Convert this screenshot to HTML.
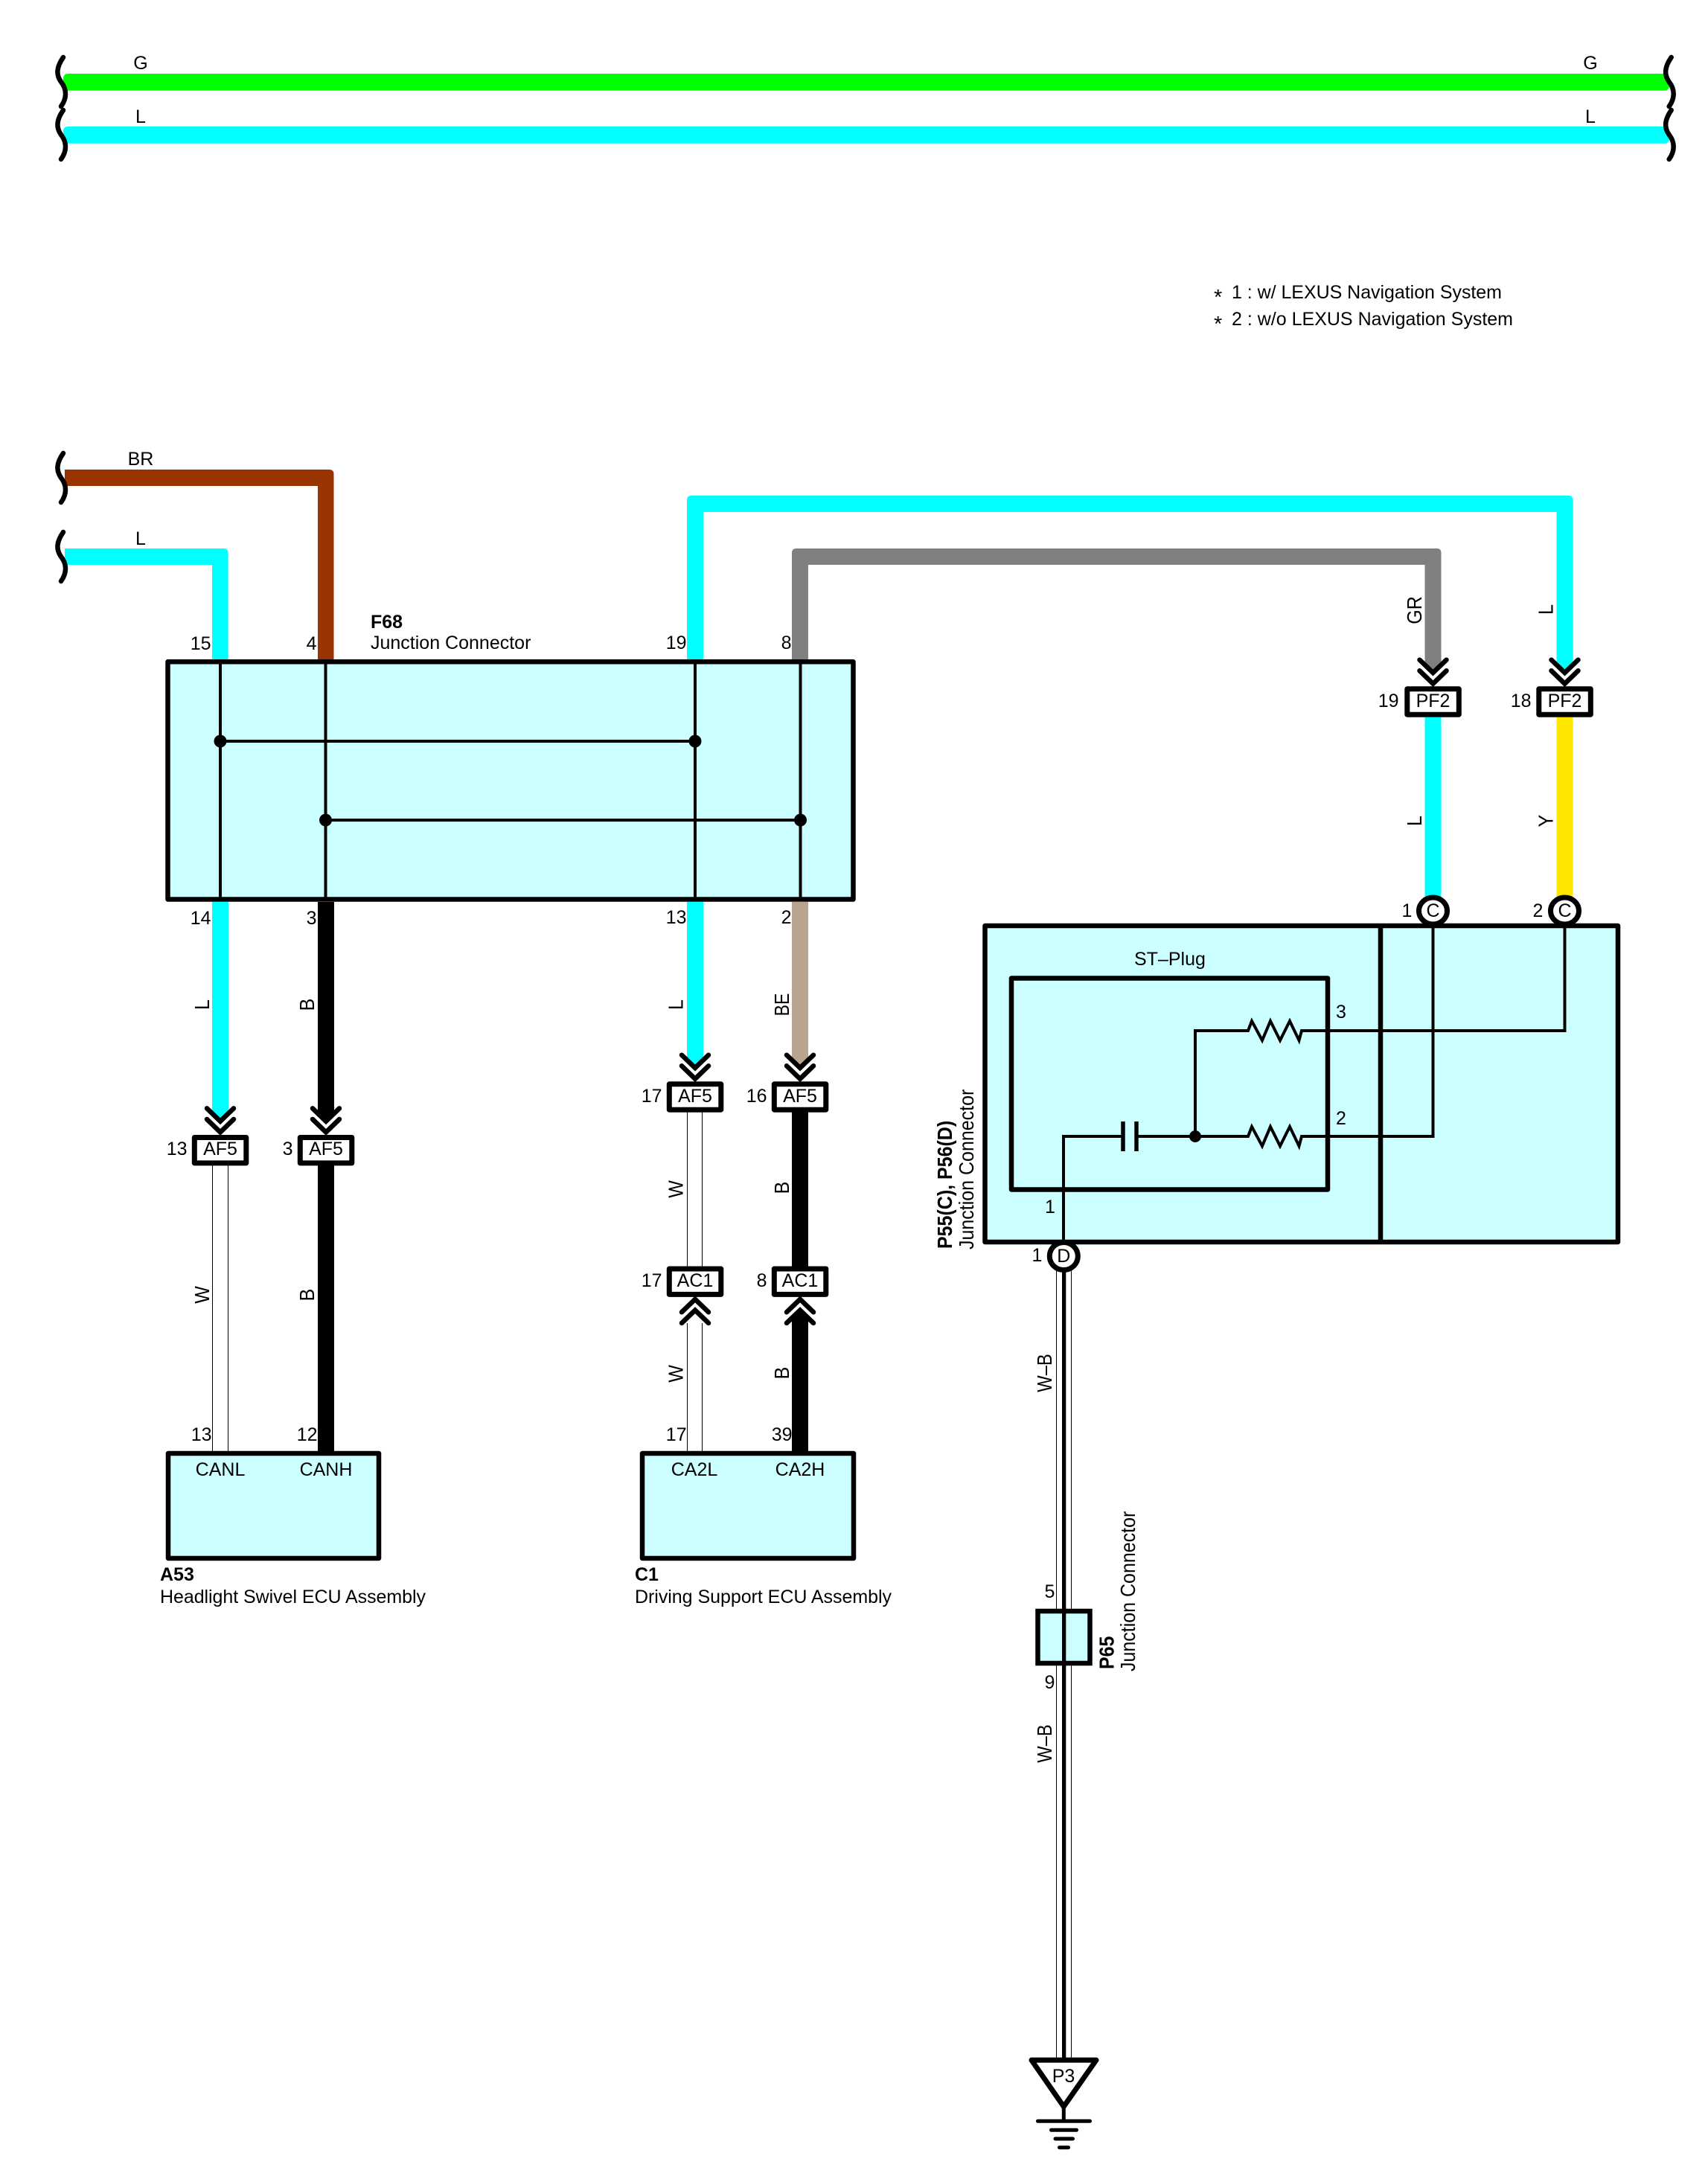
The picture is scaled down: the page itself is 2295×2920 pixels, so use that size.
<!DOCTYPE html>
<html><head><meta charset="utf-8"><style>
html,body{margin:0;padding:0;background:#fff}
svg{display:block}
text{font-family:"Liberation Sans",sans-serif;font-size:25px;fill:#000}
text:not([transform]){transform:translateY(-1px)}
.b{font-weight:bold}
.e{text-anchor:end}
text.e:not([transform]){transform:translate(1.5px,-1px)}
.m{text-anchor:middle}
.box{fill:#ccffff;stroke:#000;stroke-width:6.5;stroke-linejoin:round}
.cb{fill:#fff;stroke:#000;stroke-width:7;stroke-linejoin:round}
.w4{fill:none;stroke:#000;stroke-width:4}
.chev{fill:none;stroke:#000;stroke-width:6.5;stroke-linecap:round}
.sq{fill:none;stroke:#000;stroke-width:6.5;stroke-linecap:round}
.thin{stroke:#000;stroke-width:1;fill:none}
</style></head><body>
<svg width="2295" height="2920" viewBox="0 0 2295 2920" xmlns="http://www.w3.org/2000/svg">
<!-- top wires -->
<rect x="85" y="99" width="2158" height="22.7" rx="6" fill="#00ff00"/>
<rect x="85" y="170" width="2158" height="22.7" rx="6" fill="#00ffff"/>
<path class="sq" d="M85 77C76 90 75 100 82 110C90 120 90 132 82 143"/>
<path class="sq" d="M85 148C76 161 75 171 82 181C90 191 90 203 82 214"/>
<path class="sq" d="M2245.7 77C2236.7 90 2235.7 100 2242.7 110C2250.7 120 2250.7 132 2242.7 143"/>
<path class="sq" d="M2245.7 148C2236.7 161 2235.7 171 2242.7 181C2250.7 191 2250.7 203 2242.7 214"/>
<text class="m" x="189" y="94">G</text><text class="m" x="189" y="166">L</text>
<text class="m" x="2137" y="94">G</text><text class="m" x="2137" y="166">L</text>
<!-- legend -->
<text x="1631" y="410" style="font-size:29px">*</text>
<text x="1631" y="446" style="font-size:29px">*</text>
<text x="1655" y="402" textLength="363">1 : w/ LEXUS Navigation System</text>
<text x="1655" y="438" textLength="378">2 : w/o LEXUS Navigation System</text>
<!-- wires above F68 -->
<path fill="#993300" d="M87 631H442.5Q448.5 631 448.5 637V886H427V653H87Z"/>
<path fill="#00ffff" d="M87 737H300.6Q306.6 737 306.6 743V886H285V759H87Z"/>
<path fill="#00ffff" d="M923 886V672Q923 666 929 666H2107.5Q2113.5 666 2113.5 672V889L2102.5 900L2091.5 889V688H945V886Z"/>
<path fill="#808080" d="M1064 886V743Q1064 737 1070 737H1930.5Q1936.5 737 1936.5 743V889L1925.5 900L1914.5 889V759H1086V886Z"/>
<path class="sq" d="M85 609C76 622 75 632 82 642C90 652 90 664 82 675"/>
<path class="sq" d="M85 715C76 728 75 738 82 748C90 758 90 770 82 781"/>
<text class="m" x="189" y="626">BR</text><text class="m" x="189" y="733">L</text>
<!-- F68 -->
<rect class="box" x="225.5" y="889.3" width="921" height="319.2"/>
<path class="w4" d="M296 889V1209M437.5 889V1209M934 889V1209M1075.5 889V1209M296 996H934M437.5 1102H1075.5"/>
<circle cx="296" cy="996" r="8.5"/><circle cx="934" cy="996" r="8.5"/>
<circle cx="437.5" cy="1102" r="8.5"/><circle cx="1075.5" cy="1102" r="8.5"/>
<text class="b" x="498" y="845">F68</text><text x="498" y="873">Junction Connector</text>
<text class="e" x="282" y="874">15</text><text class="e" x="424" y="874">4</text>
<text class="e" x="921" y="873">19</text><text class="e" x="1062" y="873">8</text>
<text class="e" x="282" y="1243">14</text><text class="e" x="424" y="1243">3</text>
<text class="e" x="921" y="1242">13</text><text class="e" x="1062" y="1242">2</text>
<!-- wires below F68 -->
<path fill="#00ffff" d="M285 1212H307V1492L296 1503L285 1492Z"/>
<path fill="#000" d="M427 1212H449V1492L438 1503L427 1492Z"/>
<path fill="#00ffff" d="M923 1212H945V1420L934 1431L923 1420Z"/>
<path fill="#b8a48f" d="M1064 1212H1086V1420L1075 1431L1064 1420Z"/>
<path class="chev" d="M278 1489.4L296 1506.7L314 1489.4M278 1504L296 1521.4L314 1504"/>
<path class="chev" d="M420 1489.4L438 1506.7L456 1489.4M420 1504L438 1521.4L456 1504"/>
<path class="chev" d="M916 1417.7L934 1435L952 1417.7M916 1432.3L934 1449.7L952 1432.3"/>
<path class="chev" d="M1057 1417.7L1075 1435L1093 1417.7M1057 1432.3L1075 1449.7L1093 1432.3"/>
<path class="chev" d="M1907.5 886.7L1925.5 904L1943.5 886.7M1907.5 901.3L1925.5 918.7L1943.5 901.3"/>
<path class="chev" d="M2084.5 886.7L2102.5 904L2120.5 886.7M2084.5 901.3L2102.5 918.7L2120.5 901.3"/>
<!-- lower wires left -->
<path class="thin" d="M285.5 1566V1951M306.5 1566V1951"/>
<rect x="427" y="1566" width="22" height="387"/>
<path class="thin" d="M923.5 1494V1702M943.5 1494V1702M923.5 1778V1951M943.5 1778V1951"/>
<rect x="1064" y="1494" width="22" height="208"/>
<path fill="#000" d="M1064 1953V1775L1075 1764L1086 1775V1953Z"/>
<path class="chev" d="M916 1763.2L934 1745.9L952 1763.2M916 1777.9L934 1760.6L952 1777.9"/>
<path class="chev" d="M1057 1763.2L1075 1745.9L1093 1763.2M1057 1777.9L1075 1760.6L1093 1777.9"/>
<!-- connector boxes -->
<rect class="cb" x="261.3" y="1528.5" width="69.5" height="34.4"/><text class="m" x="296" y="1553">AF5</text>
<rect class="cb" x="403.3" y="1528.5" width="69.5" height="34.4"/><text class="m" x="438" y="1553">AF5</text>
<rect class="cb" x="899.3" y="1456.8" width="69.5" height="34.4"/><text class="m" x="934" y="1482">AF5</text>
<rect class="cb" x="1040.3" y="1456.8" width="69.5" height="34.4"/><text class="m" x="1075" y="1482">AF5</text>
<rect class="cb" x="899.3" y="1705" width="69.5" height="34.4"/><text class="m" x="934" y="1730">AC1</text>
<rect class="cb" x="1040.3" y="1705" width="69.5" height="34.4"/><text class="m" x="1075" y="1730">AC1</text>
<rect class="cb" x="1890.8" y="925.8" width="69.5" height="34.4"/><text class="m" x="1925.5" y="951">PF2</text>
<rect class="cb" x="2067.8" y="925.8" width="69.5" height="34.4"/><text class="m" x="2102.5" y="951">PF2</text>
<text class="e" x="250" y="1553">13</text><text class="e" x="392" y="1553">3</text>
<text class="e" x="888" y="1482">17</text><text class="e" x="1029" y="1482">16</text>
<text class="e" x="888" y="1730">17</text><text class="e" x="1029" y="1730">8</text>
<text class="e" x="1878" y="951">19</text><text class="e" x="2056" y="951">18</text>
<!-- ECUs -->
<rect class="box" x="226" y="1953" width="283" height="141"/>
<rect class="box" x="863" y="1953" width="284" height="141"/>
<text class="m" x="296" y="1984">CANL</text><text class="m" x="438" y="1984">CANH</text>
<text class="m" x="933" y="1984">CA2L</text><text class="m" x="1075" y="1984">CA2H</text>
<text class="e" x="283" y="1937">13</text><text class="e" x="425" y="1937">12</text>
<text class="e" x="921" y="1937">17</text><text class="e" x="1063" y="1937">39</text>
<text class="b" x="215" y="2125">A53</text><text x="215" y="2155" textLength="357">Headlight Swivel ECU Assembly</text>
<text class="b" x="853" y="2125">C1</text><text x="853" y="2155" textLength="345">Driving Support ECU Assembly</text>
<!-- right wires -->
<rect x="1914.5" y="964" width="22" height="246" fill="#00ffff"/>
<rect x="2091.5" y="964" width="22" height="246" fill="#ffe600"/>
<!-- P55/P56 -->
<rect class="box" x="1323.5" y="1244" width="850.5" height="425"/>
<path d="M1855 1244V1669" stroke="#000" stroke-width="6.5"/>
<rect x="1359" y="1314.5" width="425" height="284" fill="none" stroke="#000" stroke-width="6.5" stroke-linejoin="round"/>
<path class="w4" d="M1429 1669V1527H1509M1527 1527H1677L1682 1514L1696 1540L1707 1514L1720 1540L1733 1514L1745.5 1540L1749 1527H1925.5V1224M1606 1527V1385H1677L1682 1372L1696 1398L1707 1372L1720 1398L1733 1372L1745.5 1398L1749 1385H2102.5V1224"/>
<path d="M1509 1507V1547M1527 1507V1547" stroke="#000" stroke-width="5.5" fill="none"/>
<circle cx="1606" cy="1527" r="8"/>
<ellipse cx="1925.5" cy="1224" rx="19" ry="18" fill="#fff" stroke="#000" stroke-width="7"/>
<ellipse cx="2102.5" cy="1224" rx="19" ry="18" fill="#fff" stroke="#000" stroke-width="7"/>
<text class="m" x="1925.5" y="1233">C</text><text class="m" x="2102.5" y="1233">C</text>
<text class="m" x="1890.5" y="1233">1</text><text class="m" x="2066.5" y="1233">2</text>
<text x="1524" y="1298">ST–Plug</text>
<text class="m" x="1802" y="1369">3</text><text class="m" x="1802" y="1512">2</text><text class="m" x="1411" y="1631">1</text>
<!-- ground wire -->
<path class="thin" d="M1419.5 1700V2765M1439.5 1700V2765"/>
<rect x="1427" y="1700" width="5.3" height="1065"/>
<ellipse cx="1429.3" cy="1688" rx="19" ry="18.5" fill="#fff" stroke="#000" stroke-width="7"/>
<text class="m" x="1429.3" y="1697">D</text><text class="m" x="1393.5" y="1696">1</text>
<!-- P65 -->
<rect x="1394.5" y="2165" width="70" height="70" fill="#ccffff" stroke="#000" stroke-width="6.5"/>
<rect x="1427" y="2160" width="5.3" height="80"/>
<text class="m" x="1410.5" y="2148">5</text><text class="m" x="1410.5" y="2270">9</text>
<!-- ground symbol -->
<path d="M1386 2768.3H1473L1429.3 2830.7Z" fill="#fff" stroke="#000" stroke-width="7" stroke-linejoin="round"/>
<text class="m" x="1429" y="2799">P3</text>
<path d="M1429.3 2830V2850" stroke="#000" stroke-width="5"/>
<path d="M1394.5 2850.3H1464.5M1412.5 2862.3H1446.5M1418 2874H1441.5M1423.5 2885.7H1435.5" stroke="#000" stroke-width="5" stroke-linecap="round"/>
<!-- rotated labels -->
<g class="m">
<text class="m" transform="translate(281,1350) rotate(-90) scale(1,1.1)">L</text>
<text class="m" transform="translate(422,1350) rotate(-90) scale(1,1.1)">B</text>
<text class="m" transform="translate(917.5,1350) rotate(-90) scale(1,1.1)">L</text>
<text class="m" transform="translate(1060,1350) rotate(-90) scale(.92,1.1)">BE</text>
<text class="m" transform="translate(281,1740) rotate(-90) scale(1,1.1)">W</text>
<text class="m" transform="translate(422,1740) rotate(-90) scale(1,1.1)">B</text>
<text class="m" transform="translate(917.5,1598) rotate(-90) scale(1,1.1)">W</text>
<text class="m" transform="translate(1060,1596) rotate(-90) scale(1,1.1)">B</text>
<text class="m" transform="translate(917.5,1846) rotate(-90) scale(1,1.1)">W</text>
<text class="m" transform="translate(1060,1845) rotate(-90) scale(1,1.1)">B</text>
<text class="m" transform="translate(1910,820) rotate(-90) scale(1,1.1)">GR</text>
<text class="m" transform="translate(2086.7,819) rotate(-90) scale(1,1.1)">L</text>
<text class="m" transform="translate(1910,1103) rotate(-90) scale(1,1.1)">L</text>
<text class="m" transform="translate(2086.7,1103) rotate(-90) scale(1,1.1)">Y</text>
<text class="m" transform="translate(1413,1845) rotate(-90) scale(.95,1.1)">W–B</text>
<text class="m" transform="translate(1413,2343) rotate(-90) scale(.95,1.1)">W–B</text>
</g>
<text class="b" transform="translate(1279,1678) rotate(-90) scale(1,1.1)">P55(C), P56(D)</text>
<text transform="translate(1308,1679) rotate(-90) scale(1,1.1)">Junction Connector</text>
<text class="b" transform="translate(1496.7,2243) rotate(-90) scale(1,1.1)">P65</text>
<text transform="translate(1525,2246) rotate(-90) scale(1,1.1)">Junction Connector</text>
</svg>
</body></html>
